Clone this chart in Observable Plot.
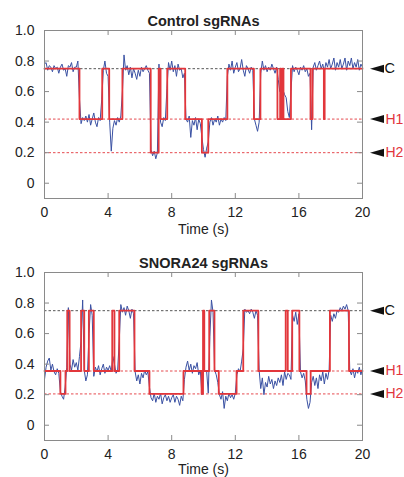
<!DOCTYPE html>
<html><head><meta charset="utf-8">
<script src="https://cdn.jsdelivr.net/npm/d3@7"></script>
<script src="https://cdn.jsdelivr.net/npm/@observablehq/plot@0.6"></script>
<style>body{margin:0;background:#fff;} #chart svg{display:block;}</style>
</head><body><div id="chart"></div>
<script>
// ---- data ----
const titles = ["Control sgRNAs", "SNORA24 sgRNAs"];
const xTicks = [0, 4, 8, 12, 16, 20];
const yTicks = [0, 0.2, 0.4, 0.6, 0.8, 1.0];
const stateNames = ["C", "H1", "H2"];
const levelsControl = [0.75, 0.42, 0.2];
const levelsSnora = [0.75, 0.355, 0.205];
const sampleRate = 10; // samples per second

// measured FRET trace, Control (t = 0 .. 20 s, every 0.1 s)
const traceControl = [
0.78,0.79,0.74,0.77,0.76,0.73,0.77,0.75,0.76,0.72,
0.76,0.78,0.74,0.75,0.70,0.77,0.76,0.79,0.73,0.76,
0.76,0.80,0.55,0.39,0.43,0.41,0.44,0.40,0.45,0.38,
0.42,0.46,0.40,0.37,0.43,0.41,0.55,0.74,0.80,0.72,
0.70,0.40,0.21,0.36,0.41,0.38,0.43,0.40,0.44,0.60,
0.84,0.74,0.77,0.71,0.76,0.69,0.75,0.72,0.68,0.74,
0.70,0.76,0.73,0.75,0.77,0.74,0.72,0.22,0.18,0.21,
0.16,0.20,0.78,0.40,0.37,0.43,0.41,0.62,0.79,0.74,
0.80,0.73,0.77,0.70,0.78,0.74,0.75,0.69,0.72,0.42,
0.40,0.44,0.30,0.41,0.38,0.43,0.35,0.42,0.39,0.30,
0.22,0.17,0.23,0.27,0.40,0.43,0.38,0.42,0.40,0.44,
0.38,0.42,0.40,0.43,0.41,0.70,0.78,0.74,0.80,0.72,
0.76,0.79,0.73,0.75,0.81,0.74,0.70,0.77,0.75,0.72,
0.76,0.74,0.42,0.38,0.34,0.40,0.72,0.80,0.74,0.77,
0.73,0.76,0.74,0.78,0.75,0.72,0.76,0.68,0.60,0.63,
0.61,0.58,0.56,0.47,0.43,0.60,0.77,0.73,0.76,0.74,
0.71,0.76,0.74,0.77,0.73,0.75,0.70,0.72,0.35,0.76,
0.79,0.74,0.77,0.80,0.75,0.78,0.73,0.79,0.76,0.81,
0.75,0.78,0.82,0.74,0.79,0.76,0.81,0.75,0.78,0.82,
0.74,0.80,0.77,0.82,0.75,0.79,0.76,0.81,0.74,0.78,
0.76];
// idealized (HMM) fit, Control: change times and states
const fitTimesControl = [0, 2.2, 3.63, 4.07, 4.9, 6.68, 7.18, 7.3, 7.72, 8.85, 9.9, 10.3, 11.5, 13.17, 13.58, 14.65, 14.82, 14.88, 14.97, 15.03, 15.5, 16.73, 16.86, 17.57, 17.62, 20];
const fitStatesControl = ["C","H1","C","H1","C","H2","C","H1","C","H1","H2","H1","C","H1","C","H1","C","H1","C","H1","C","H1","C","H1","C","C"];

// measured FRET trace, SNORA24
const traceSnora = [
0.30,0.38,0.42,0.44,0.36,0.40,0.35,0.33,0.37,0.34,
0.22,0.19,0.17,0.25,0.38,0.77,0.40,0.36,0.43,0.38,
0.41,0.36,0.45,0.55,0.82,0.36,0.29,0.33,0.60,0.79,
0.72,0.32,0.38,0.35,0.39,0.33,0.37,0.40,0.34,0.38,
0.36,0.39,0.35,0.45,0.40,0.34,0.36,0.55,0.79,0.74,
0.77,0.72,0.78,0.75,0.70,0.76,0.73,0.35,0.29,0.33,
0.27,0.34,0.31,0.36,0.33,0.35,0.25,0.18,0.16,0.21,
0.15,0.19,0.17,0.21,0.14,0.18,0.20,0.16,0.19,0.15,
0.18,0.20,0.15,0.19,0.17,0.13,0.19,0.16,0.30,0.38,
0.42,0.36,0.40,0.34,0.39,0.37,0.41,0.33,0.36,0.20,
0.37,0.36,0.35,0.21,0.58,0.82,0.74,0.36,0.33,0.28,
0.20,0.17,0.22,0.11,0.19,0.16,0.21,0.18,0.20,0.17,
0.21,0.33,0.37,0.35,0.42,0.50,0.76,0.74,0.75,0.73,
0.76,0.74,0.70,0.75,0.72,0.36,0.24,0.31,0.20,0.28,
0.25,0.32,0.27,0.30,0.24,0.29,0.26,0.31,0.28,0.33,
0.26,0.35,0.30,0.34,0.33,0.30,0.72,0.68,0.74,0.66,
0.73,0.35,0.31,0.34,0.29,0.17,0.11,0.15,0.28,0.32,
0.26,0.31,0.24,0.33,0.29,0.35,0.27,0.34,0.30,0.36,
0.72,0.68,0.73,0.70,0.75,0.74,0.77,0.75,0.78,0.76,
0.79,0.75,0.36,0.33,0.37,0.31,0.36,0.34,0.38,0.33,
0.37];
const fitTimesSnora = [0, 1.0, 1.32, 1.43, 1.58, 2.3, 2.5, 2.79, 3.1, 4.26, 4.4, 4.7, 5.66, 6.6, 8.74, 9.88, 9.97, 10.05, 10.36, 10.69, 10.96, 12.08, 12.5, 13.45, 15.17, 15.3, 15.58, 16.03, 16.48, 16.74, 17.95, 19.15, 20];
const fitStatesSnora = ["H1","H2","H1","C","H1","C","H1","C","H1","C","H1","C","H1","H2","H1","H2","C","H1","C","H1","H2","H1","C","H1","C","H1","C","H1","H2","H1","C","H1","H1"];

// ---- styling ----
const BLUE = "#3a51a3", RED = "#e2363b", GRAY = "#8a8a8a";
const FONT = "'Liberation Sans', Arial, Helvetica, sans-serif";
const leftTri = {draw(ctx) { ctx.moveTo(-7, 0); ctx.lineTo(7, -4); ctx.lineTo(7, 4); ctx.closePath(); }};

function panel({title, trace, fitTimes, fitStates, levels, height, mt, mb, labelDy}) {
  const W = 404 - 44 - 42, H = height - mt - mb;
  const lev = Object.fromEntries(stateNames.map((s, i) => [s, levels[i]]));
  const rows = trace.map((v, i) => ({t: i / sampleRate, v}));
  const fit = fitTimes.map((t, i) => ({t, v: lev[fitStates[i]]}));
  const states = stateNames.map((s, i) => ({name: s, v: levels[i]}));
  const black = states.filter(d => d.name === "C");
  const red = states.filter(d => d.name !== "C");
  return Plot.plot({
    width: 404, height, marginLeft: 44, marginRight: 42, marginTop: mt, marginBottom: mb,
    style: {fontFamily: FONT, fontSize: "14px", background: "white", color: "#222"},
    x: {domain: [0, 20]},
    y: {domain: [-0.1, 1.0]},
    marks: [
      Plot.ruleY(black, {y: "v", stroke: "#444", strokeWidth: 0.9, strokeDasharray: "2.5,2"}),
      Plot.ruleY(red, {y: "v", stroke: RED, strokeWidth: 0.9, strokeDasharray: "2.5,2"}),
      Plot.line(rows, {x: "t", y: "v", stroke: BLUE, strokeWidth: 1}),
      Plot.line(fit, {x: "t", y: "v", curve: "step-after", stroke: RED, strokeWidth: 1.8}),
      Plot.frame({stroke: GRAY}),
      Plot.tickY(yTicks, {y: d => d, insetRight: W - 5, stroke: GRAY}),
      Plot.tickY(yTicks, {y: d => d, insetLeft: W - 5, stroke: GRAY}),
      Plot.tickX(xTicks, {x: d => d, insetBottom: H - 5, stroke: GRAY}),
      Plot.tickX(xTicks, {x: d => d, insetTop: H - 5, stroke: GRAY}),
      Plot.axisX({ticks: xTicks, tickSize: 0, tickPadding: 9, label: null, fontSize: 14}),
      Plot.axisY({ticks: yTicks, tickSize: 0, tickPadding: 10, label: null, fontSize: 14,
        tickFormat: d => d === 0 ? "0" : d.toFixed(1)}),
      Plot.text([title], {frameAnchor: "top", lineAnchor: "bottom", dy: -5, fontWeight: "bold", fontSize: 14.5, fill: "#222"}),
      Plot.text(["Time (s)"], {frameAnchor: "bottom", lineAnchor: "bottom", dy: labelDy, fontSize: 14, fill: "#222"}),
      Plot.dot(states, {x: () => 20, y: "v", dx: 14.5, symbol: leftTri, fill: "#111", stroke: "none"}),
      Plot.text(black, {x: () => 20, y: "v", text: "name", dx: 22, textAnchor: "start", fontSize: 14.5, fill: "#111"}),
      Plot.text(red, {x: () => 20, y: "v", text: "name", dx: 23, textAnchor: "start", fontSize: 14, fill: RED})
    ]
  });
}

const chart = document.getElementById("chart");
chart.append(panel({title: titles[0], trace: traceControl, fitTimes: fitTimesControl, fitStates: fitStatesControl,
  levels: levelsControl, height: 240, mt: 30, mb: 42, labelDy: 35.5}));
chart.append(panel({title: titles[1], trace: traceSnora, fitTimes: fitTimesSnora, fitStates: fitStatesSnora,
  levels: levelsSnora, height: 237, mt: 32, mb: 37, labelDy: 33}));
</script>
</body></html>
